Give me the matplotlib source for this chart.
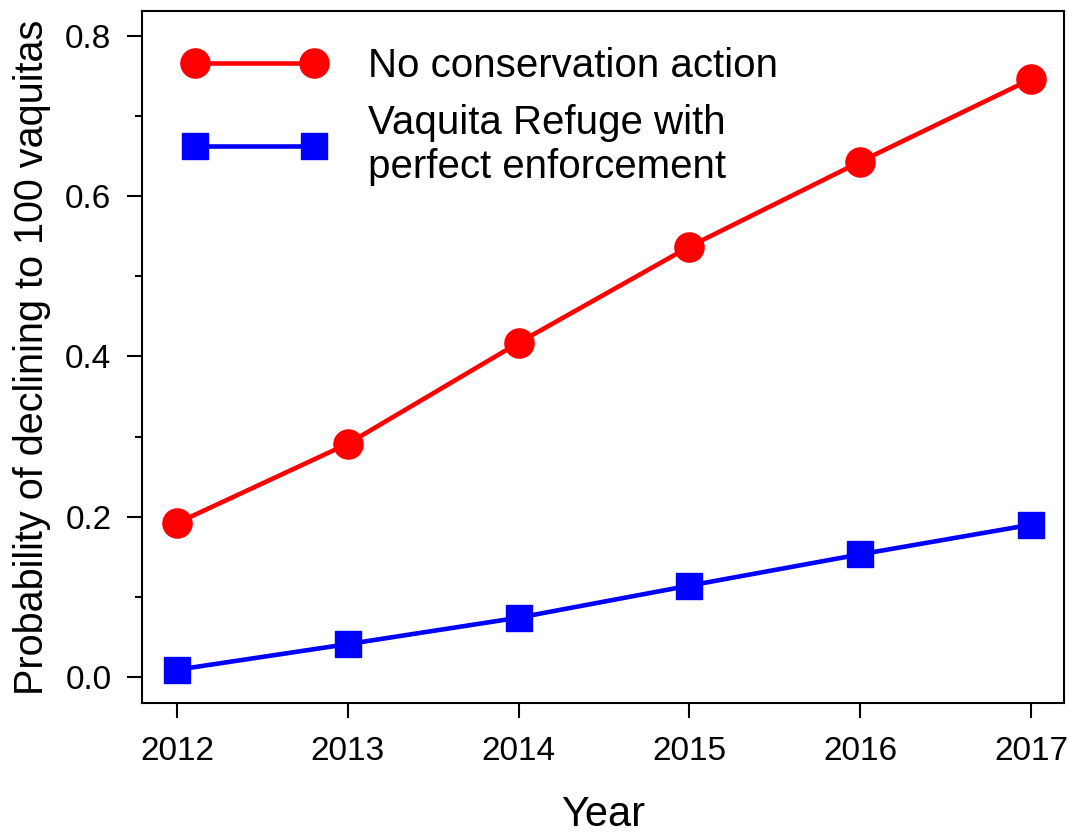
import matplotlib
matplotlib.use('Agg')
import matplotlib.pyplot as plt
from matplotlib.ticker import MultipleLocator

plt.rcParams['font.family'] = ['Liberation Sans', 'DejaVu Sans']

years = [2012, 2013, 2014, 2015, 2016, 2017]
no_action = [0.192, 0.291, 0.417, 0.537, 0.643, 0.746]
refuge = [0.009, 0.041, 0.074, 0.114, 0.153, 0.190]

fig = plt.figure(figsize=(10.68, 8.34), dpi=100)
ax = fig.add_axes([142 / 1068, 1 - 703 / 834, (1064 - 142) / 1068, (703 - 11) / 834])

ax.plot(years, no_action, color='#ff0000', lw=3.3, marker='o', ms=21,
        label='No conservation action')
ax.plot(years, refuge, color='#0000ff', lw=3.3, marker='s', ms=19,
        label='Vaquita Refuge with\nperfect enforcement')

ax.set_xlim(2011.795, 2017.193)
ax.set_ylim(-0.0325, 0.831)
ax.set_xticks(years)
ax.set_yticks([0.0, 0.2, 0.4, 0.6, 0.8])
ax.set_yticklabels(['0.0', '0.2', '0.4', '0.6', '0.8'])
ax.yaxis.set_minor_locator(MultipleLocator(0.1))

for s in ax.spines.values():
    s.set_linewidth(1.5)
ax.tick_params(axis='both', which='major', direction='out', length=11, width=1.5, labelsize=24)
ax.tick_params(axis='x', which='major', pad=13)
ax.tick_params(axis='y', which='major', pad=11)
ax.tick_params(axis='y', which='minor', direction='out', length=5, width=1.5)

ax.set_xlabel('Year', fontsize=30, labelpad=20)
ax.set_ylabel('Probability of declining to 100 vaquitas', fontsize=28.5, labelpad=10)

ax.legend(loc='upper left', bbox_to_anchor=(0.005, 1.0), frameon=False, fontsize=29,
          numpoints=2, handlelength=3.55, handletextpad=1.05, labelspacing=0.47)

fig.savefig('out.png', dpi=100)
